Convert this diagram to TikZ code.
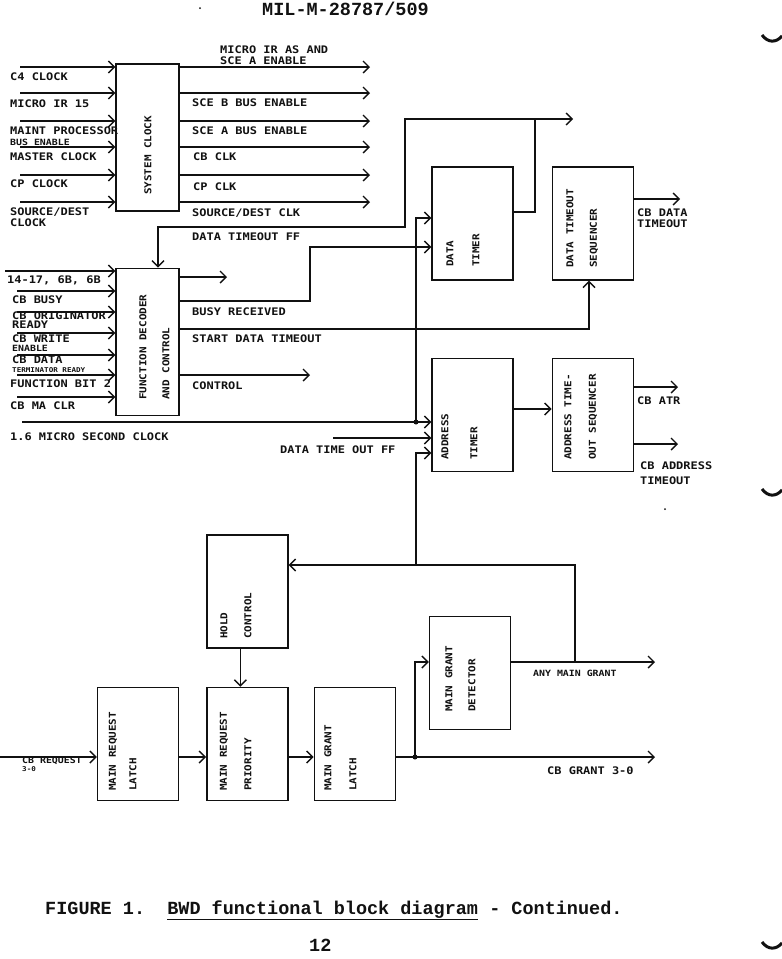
\documentclass[tikz,border=0pt]{standalone}
\usepackage{fontspec}
\usepackage{tikz}
\usetikzlibrary{arrows.meta,positioning}
\newfontfamily\plotfont{DejaVu Sans Mono}[UprightFont=* Bold,FakeStretch=1.15]
\newfontfamily\typefont{Liberation Mono}[UprightFont=* Bold]
\definecolor{ink}{HTML}{111111}
\definecolor{paper}{HTML}{FFFFFF}
\newcommand{\plotsz}{\plotfont\fontsize{10.4}{11}\selectfont}
\newcommand{\boxsz}{\plotfont\fontsize{9.5}{10}\selectfont}
\newcommand{\smallsz}{\plotfont\fontsize{8.6}{9}\selectfont}
\newcommand{\tinysz}{\plotfont\fontsize{6.6}{7}\selectfont}
\tikzset{
  blk/.style={draw=ink,fill=white,line width=1.4pt,minimum width=81pt,
    minimum height=113pt,inner sep=0pt},
  tall/.style={blk,minimum width=63pt,minimum height=147pt},
  sig/.style={-{Straight Barb[length=6pt,width=12pt]},line width=1.4pt,color=ink},
  wire/.style={line width=1.4pt,color=ink},
  lbl/.style={anchor=west,inner sep=0pt,font=\plotsz,text=ink},
  slbl/.style={lbl,font=\smallsz},
  tlbl/.style={lbl,font=\tinysz},
  vlbl/.style={lbl,font=\boxsz,rotate=90},
  jn/.style={circle,fill=ink,inner sep=0pt,minimum size=5pt},
  page/.style={anchor=base west,inner sep=0pt,text=ink,
    font=\typefont\fontsize{18.5}{20}\selectfont},
  node distance=38pt
}

\begin{document}
\begin{tikzpicture}[x=1pt,y=-1pt]
  \fill[paper] (0,0) rectangle (782,959);
  \useasboundingbox (0,0) rectangle (782,959);
  % blocks
  \node[tall] (sysclk) at (147.5,137.5) {};
  \node[tall,below=56pt of sysclk] (fdec) {};
  \node[blk] (dtimer) at (472.5,223.5) {};
  \node[blk,right=38pt of dtimer] (dseq) {};
  \node[blk,below=77pt of dtimer] (atimer) {};
  \node[blk,right=38pt of atimer] (aseq) {};
  \node[blk] (mrlatch) at (138,744) {};
  \node[blk,right=27pt of mrlatch] (mrprio) {};
  \node[blk,right=25pt of mrprio] (mglatch) {};
  \node[blk,above=38pt of mrprio] (hold) {};
  \node[blk] (mgdet) at (470,673) {};
  % block titles
  \node[vlbl] at (148,195) {SYSTEM CLOCK};
  \node[vlbl] at (143,400) {FUNCTION DECODER};
  \node[vlbl] at (166,400) {AND CONTROL};
  \node[vlbl] at (450,267) {DATA};
  \node[vlbl] at (476,267) {TIMER};
  \node[vlbl] at (570,268) {DATA TIMEOUT};
  \node[vlbl] at (594,268) {SEQUENCER};
  \node[vlbl] at (445,460) {ADDRESS};
  \node[vlbl] at (474,460) {TIMER};
  \node[vlbl] at (568,460) {ADDRESS TIME-};
  \node[vlbl] at (593,460) {OUT SEQUENCER};
  \node[vlbl] at (224,639) {HOLD};
  \node[vlbl] at (248,639) {CONTROL};
  \node[vlbl] at (113,791) {MAIN REQUEST};
  \node[vlbl] at (133,791) {LATCH};
  \node[vlbl] at (224,791) {MAIN REQUEST};
  \node[vlbl] at (248,791) {PRIORITY};
  \node[vlbl] at (328,791) {MAIN GRANT};
  \node[vlbl] at (353,791) {LATCH};
  \node[vlbl] at (449,712) {MAIN GRANT};
  \node[vlbl] at (472,712) {DETECTOR};
  % system clock in and out
  \draw[sig] (20,67) coordinate (c4) -- (c4 -| sysclk.west);
  \draw[sig] (20,93) coordinate (mir) -- (mir -| sysclk.west);
  \draw[sig] (20,121) coordinate (mpb) -- (mpb -| sysclk.west);
  \draw[sig] (20,147) coordinate (mclk) -- (mclk -| sysclk.west);
  \draw[sig] (20,175) coordinate (cpclk) -- (cpclk -| sysclk.west);
  \draw[sig] (20,202) coordinate (sdclk) -- (sdclk -| sysclk.west);
  \draw[sig] (c4 -| sysclk.east) -- (370,67);
  \draw[sig] (mir -| sysclk.east) -- (370,93);
  \draw[sig] (mpb -| sysclk.east) -- (370,121);
  \draw[sig] (mclk -| sysclk.east) -- (370,147);
  \draw[sig] (cpclk -| sysclk.east) -- (370,175);
  \draw[sig] (sdclk -| sysclk.east) -- (370,202);
  % function decoder in and out
  \draw[sig] (5,271) coordinate (fn) -- (fn -| fdec.west);
  \draw[sig] (17,291) coordinate (cbbusy) -- (cbbusy -| fdec.west);
  \draw[sig] (17,312) coordinate (cborig) -- (cborig -| fdec.west);
  \draw[sig] (17,333) coordinate (cbwr) -- (cbwr -| fdec.west);
  \draw[sig] (17,355) coordinate (cbdat) -- (cbdat -| fdec.west);
  \draw[sig] (17,375) coordinate (fbit) -- (fbit -| fdec.west);
  \draw[sig] (17,397) coordinate (maclr) -- (maclr -| fdec.west);
  \draw[sig] (fdec.east |- 0,277) -- (227,277);
  \draw[sig] (fdec.east |- 0,301) -| (310,247) -- (dtimer.west |- 0,247);
  \draw[sig] (fdec.east |- 0,329) -| (dseq.south -| 589,0);
  \draw[sig] (fdec.east |- 0,375) -- (310,375);
  % data timeout ff
  \draw[sig] (dtimer.east |- 0,212) -| (535,119) coordinate (tff) -- (573,119);
  \draw[sig] (tff) -- (405,119) |- (158,227) -- (fdec.north -| 158,0);
  \draw[sig] (dseq.east |- 0,199) -- (680,199);
  % clock and address timer
  \draw[sig] (22,422) coordinate (usclk) -- (usclk -| atimer.west);
  \node[jn] (j1) at (416,422) {};
  \draw[sig] (j1.center) |- (dtimer.west |- 0,218);
  \draw[sig] (333,438) coordinate (dtoff) -- (dtoff -| atimer.west);
  \draw[sig] (atimer.east |- 0,409) -- (aseq.west |- 0,409);
  \draw[sig] (aseq.east |- 0,387) -- (678,387);
  \draw[sig] (aseq.east |- 0,444) -- (678,444);
  % grant path
  \draw[sig] (mgdet.east |- 0,662) -- (655,662);
  \draw[sig] (575,662) coordinate (anyg) |- (hold.east |- 0,565);
  \draw[sig] (416,565) coordinate (hb) |- (atimer.west |- 0,453);
  \draw[sig] ([xshift=-7pt]hold.south) -- ([xshift=-7pt]mrprio.north);
  \draw[sig] (0,757) coordinate (cbreq) -- (cbreq -| mrlatch.west);
  \draw[sig] (cbreq -| mrlatch.east) -- (cbreq -| mrprio.west);
  \draw[sig] (cbreq -| mrprio.east) -- (cbreq -| mglatch.west);
  \draw[sig] (cbreq -| mglatch.east) -- (655,757);
  \node[jn] (j4) at (415,757) {};
  \draw[sig] (j4.center) |- (mgdet.west |- 0,662);
  % signal names
  \node[lbl] at (10,77) {C4 CLOCK};
  \node[lbl] at (10,104) {MICRO IR 15};
  \node[lbl] at (10,131) {MAINT PROCESSOR};
  \node[slbl] at (10,142) {BUS ENABLE};
  \node[lbl] at (10,157) {MASTER CLOCK};
  \node[lbl] at (10,184) {CP CLOCK};
  \node[lbl] at (10,212) {SOURCE/DEST};
  \node[lbl] at (10,223) {CLOCK};
  \node[lbl] at (220,50) {MICRO IR AS AND};
  \node[lbl] at (220,61) {SCE A ENABLE};
  \node[lbl] at (192,103) {SCE B BUS ENABLE};
  \node[lbl] at (192,131) {SCE A BUS ENABLE};
  \node[lbl] at (193,157) {CB CLK};
  \node[lbl] at (193,187) {CP CLK};
  \node[lbl] at (192,213) {SOURCE/DEST CLK};
  \node[lbl] at (192,237) {DATA TIMEOUT FF};
  \node[lbl] at (7,280) {14-17, 6B, 6B};
  \node[lbl] at (12,300) {CB BUSY};
  \node[lbl] at (12,316) {CB ORIGINATOR};
  \node[lbl] at (12,325) {READY};
  \node[lbl] at (12,339) {CB WRITE};
  \node[slbl] at (12,348) {ENABLE};
  \node[lbl] at (12,360) {CB DATA};
  \node[tlbl] at (12,370) {TERMINATOR READY};
  \node[lbl] at (10,384) {FUNCTION BIT 2};
  \node[lbl] at (10,406) {CB MA CLR};
  \node[lbl] at (10,437) {1.6 MICRO SECOND CLOCK};
  \node[lbl] at (192,312) {BUSY RECEIVED};
  \node[lbl] at (192,339) {START DATA TIMEOUT};
  \node[lbl] at (192,386) {CONTROL};
  \node[lbl] at (280,450) {DATA TIME OUT FF};
  \node[lbl] at (637,213) {CB DATA};
  \node[lbl] at (637,224) {TIMEOUT};
  \node[lbl] at (637,401) {CB ATR};
  \node[lbl] at (640,466) {CB ADDRESS};
  \node[lbl] at (640,481) {TIMEOUT};
  \node[slbl] at (533,673) {ANY MAIN GRANT};
  \node[lbl] at (547,771) {CB GRANT 3-0};
  \node[slbl] at (22,761) {CB REQUEST};
  \node[tlbl] at (22,769) {3-0};
  % page
  \node[page] at (262,15) {MIL-M-28787/509};
  \node[page] at (45,914) {FIGURE 1.\ \ \underline{BWD functional block diagram} - Continued.};
  \node[page] at (309,951) {12};
  \fill[ink] (200,8) circle (1pt);
  \fill[ink] (665,509) circle (1pt);
  \draw[ink,line width=3pt] (762,35) .. controls (768,43) and (776,43) .. (782,36);
  \draw[ink,line width=3pt] (762,489) .. controls (768,497) and (776,497) .. (782,490);
  \draw[ink,line width=3pt] (762,942) .. controls (768,950) and (776,950) .. (782,943);
\end{tikzpicture}
\end{document}
